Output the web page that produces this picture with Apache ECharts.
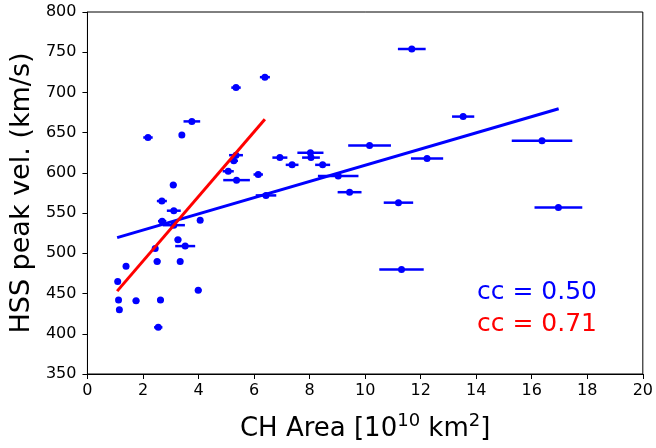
<!DOCTYPE html>
<html>
<head>
<meta charset="utf-8">
<script src="https://cdn.jsdelivr.net/npm/echarts@6/dist/echarts.min.js"></script>
<style>
html,body{margin:0;padding:0;background:#fff;}
#chart{width:656px;height:448px;}
</style>
</head>
<body>
<div id="chart"></div>
<script>
// CH area (10^10 km^2), HSS peak velocity (km/s), area error
const chArea = [1.09,1.12,1.15,1.39,1.75,2.18,2.44,2.51,2.55,2.63,2.68,2.69,3.09,3.11,3.11,3.26,3.34,3.40,3.52,3.76,3.99,4.06,5.07,5.27,5.35,5.35,5.37,6.15,6.39,6.43,6.93,7.37,8.03,8.05,8.47,9.03,9.44,10.16,11.20,11.31,11.68,12.23,13.53,16.37,16.96];
const peakVel = [465,442,430,484,441,644,506,490,408,442,565,540,585,553,535,517,490,647,509,664,454,541,602,615,622,706,591,598,719,572,619,610,625,619,610,596,576,634,563,480,754,618,670,640,557];
const areaErr = [0.08,0.08,0.05,0.08,0.12,0.17,0.08,0.12,0.15,0.12,0.18,0.15,0.12,0.25,0.40,0.12,0.10,0.08,0.36,0.30,0.12,0.08,0.20,0.15,0.25,0.17,0.48,0.17,0.18,0.37,0.27,0.23,0.47,0.32,0.27,0.73,0.43,0.77,0.53,0.80,0.50,0.58,0.40,1.09,0.86];
// Fit lines (endpoints)
const blueFitX = [1.07, 16.97];
const blueFitY = [519.5, 679.8];
const redFitX = [1.07, 6.39];
const redFitY = [453, 666.6];
const xTicks = [0,2,4,6,8,10,12,14,16,18,20];
const yTicks = [350,400,450,500,550,600,650,700,750,800];
const ccBlue = 'cc = 0.50';
const ccRed = 'cc = 0.71';

const pts = chArea.map((x,i)=>[x, peakVel[i], areaErr[i]]);
const blueFit = blueFitX.map((x,i)=>[x, blueFitY[i]]);
const redFit = redFitX.map((x,i)=>[x, redFitY[i]]);

const FONT = 'DejaVu Sans';
const chart = echarts.init(document.getElementById('chart'), null, {renderer:'canvas'});
const axisCommon = {
  axisLine:{show:true, lineStyle:{color:'#000', width:1}},
  axisTick:{show:true, inside:false, length:5, lineStyle:{color:'#000', width:1}},
  splitLine:{show:false},
  axisLabel:{color:'#000', fontFamily:FONT, fontSize:16}
};
chart.setOption({
  animation:false,
  backgroundColor:'#fff',
  grid:{left:86, right:13, top:12, bottom:74, show:true, borderColor:'#000', borderWidth:1, backgroundColor:'transparent'},
  xAxis:Object.assign({}, axisCommon, {
    type:'value', min:xTicks[0], max:xTicks[xTicks.length-1], interval:2,
    axisLabel:Object.assign({}, axisCommon.axisLabel, {margin:9}),
    name:'{n|CH Area [10}{s|10}{n| km}{s|2}{n|]}',
    nameLocation:'middle', nameGap:38,
    nameTextStyle:{rich:{
      n:{fontFamily:FONT, fontSize:26, color:'#000', verticalAlign:'bottom', lineHeight:30},
      s:{fontFamily:FONT, fontSize:18, color:'#000', verticalAlign:'top', lineHeight:30, padding:[0,0,8,0]}
    }}
  }),
  yAxis:Object.assign({}, axisCommon, {
    type:'value', min:yTicks[0], max:yTicks[yTicks.length-1], interval:50,
    axisLabel:Object.assign({}, axisCommon.axisLabel, {margin:11}),
    name:'HSS peak vel. (km/s)', nameLocation:'middle', nameGap:51, nameRotate:90,
    nameTextStyle:{fontFamily:FONT, fontSize:27, color:'#000'}
  }),
  graphic:[
    {type:'text', left:477, top:280, style:{text:ccBlue, fill:'#0000ff', font:'25px "DejaVu Sans"'}},
    {type:'text', left:477, top:312, style:{text:ccRed, fill:'#ff0000', font:'25px "DejaVu Sans"'}}
  ],
  series:[
    {
      type:'custom', data:pts, z:2,
      renderItem:function(params, api){
        const x = api.value(0), y = api.value(1), e = api.value(2);
        const p1 = api.coord([x-e, y]);
        const p2 = api.coord([x+e, y]);
        return {type:'line', shape:{x1:p1[0], y1:p1[1], x2:p2[0], y2:p2[1]}, style:{stroke:'#0000ff', lineWidth:2.5}};
      }
    },
    {type:'scatter', data:pts, symbol:'circle', symbolSize:7, itemStyle:{color:'#0000ff', opacity:1}, z:3},
    {type:'line', data:blueFit, showSymbol:false, lineStyle:{color:'#0000ff', width:3}, z:4},
    {type:'line', data:redFit, showSymbol:false, lineStyle:{color:'#ff0000', width:3}, z:5}
  ]
});
</script>
</body>
</html>
